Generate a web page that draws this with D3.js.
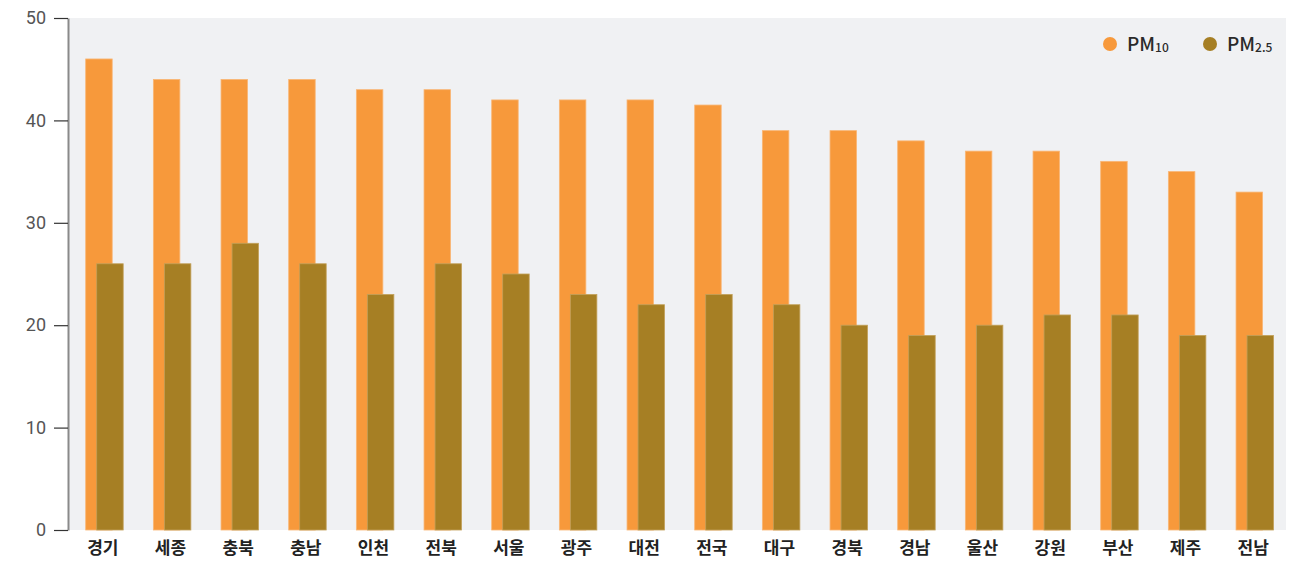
<!DOCTYPE html>
<html>
<head>
<meta charset="utf-8">
<script src="https://cdn.jsdelivr.net/npm/d3@7"></script>
<style>
  body { margin: 0; background: #fff; }
  svg text { font-family: "Noto Sans CJK KR", "Noto Sans", sans-serif; }
</style>
</head>
<body>
<div id="chart"></div>
<script>
// regions, sorted by PM10
const regions = ["경기","세종","충북","충남","인천","전북","서울","광주","대전","전국","대구","경북","경남","울산","강원","부산","제주","전남"];
const pm10 = [46, 44, 44, 44, 43, 43, 42, 42, 42, 41.5, 39, 39, 38, 37, 37, 36, 35, 33];
const pm25 = [26, 26, 28, 26, 23, 26, 25, 23, 22, 23, 22, 20, 19, 20, 21, 21, 19, 19];
const yTicks = [0, 10, 20, 30, 40, 50];

const W = 1311, H = 562;
const margin = {top: 18, right: 25, bottom: 32, left: 68};
const width = W - margin.left - margin.right,
    height = H - margin.top - margin.bottom;

const svg = d3.select("#chart").append("svg")
    .attr("width", W).attr("height", H);
const g = svg.append("g")
    .attr("transform", "translate(" + margin.left + "," + margin.top + ")");

g.append("rect")
  .attr("width", width).attr("height", height)
  .attr("fill", "#f0f1f3");

const x = d3.scaleBand().domain(regions).range([0, width]);
const y = d3.scaleLinear().domain([0, 50]).range([height, 0]);

const bw = 26.5;
const off10 = 17.7, off25 = 28.7;

// PM10 bars
g.selectAll(".pm10").data(regions).join("rect")
  .attr("class", "pm10")
  .attr("x", d => x(d) + off10)
  .attr("width", bw)
  .attr("y", (d, i) => y(pm10[i]))
  .attr("height", (d, i) => height - y(pm10[i]))
  .attr("fill", "#f7993b")
  .attr("stroke", "#f9b675").attr("stroke-width", 0.8);

// PM2.5 bars
g.selectAll(".pm25").data(regions).join("rect")
  .attr("class", "pm25")
  .attr("x", d => x(d) + off25)
  .attr("width", bw)
  .attr("y", (d, i) => y(pm25[i]))
  .attr("height", (d, i) => height - y(pm25[i]))
  .attr("fill", "#a67f24")
  .attr("stroke", "#c2a15a").attr("stroke-width", 0.8);

// y axis
const yAxis = g.append("g")
  .call(d3.axisLeft(y).tickValues(yTicks).tickSize(14).tickSizeOuter(0).tickPadding(8));
yAxis.select(".domain").attr("stroke", "#8a8a8a").attr("stroke-width", 2);
yAxis.selectAll(".tick line").attr("stroke", "#333").attr("stroke-width", 1.2);
yAxis.selectAll(".tick text")
  .attr("fill", "#555")
  .style("font-family", "'Liberation Sans Narrow', 'Roboto', sans-serif")
  .style("font-size", "18px");

// x labels
g.append("g").selectAll("text").data(regions).join("text")
  .attr("x", d => x(d) + x.bandwidth() / 2 + 1)
  .attr("y", height + 24)
  .attr("text-anchor", "middle")
  .attr("fill", "#222")
  .style("font-size", "17px")
  .style("font-weight", "bold")
  .text(d => d);

// legend
const legend = [
  {name: "PM", sub: "10", color: "#f7993b", x: 1110},
  {name: "PM", sub: "2.5", color: "#a67f24", x: 1210}
];
const lg = svg.append("g");
legend.forEach(l => {
  lg.append("circle").attr("cx", l.x).attr("cy", 44).attr("r", 7).attr("fill", l.color);
  const t = lg.append("text").attr("x", l.x + 17).attr("y", 51)
    .attr("fill", "#2a2a2a").style("font-size", "19px").style("font-weight", 500);
  t.append("tspan").text(l.name);
  t.append("tspan").text(l.sub).style("font-size", "12px").attr("dy", 1);
});
</script>
</body>
</html>
